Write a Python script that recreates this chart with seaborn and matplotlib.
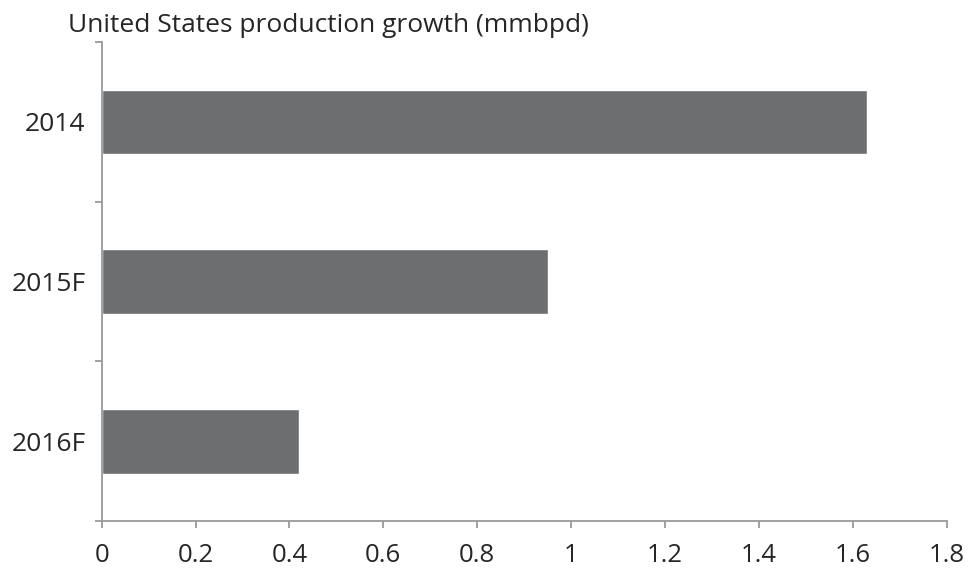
import matplotlib
matplotlib.use("Agg")
import matplotlib.pyplot as plt
import seaborn as sns
import pandas as pd

categories = ["2014", "2015F", "2016F"]
values = [1.63, 0.95, 0.42]
x_ticks = [0, 0.2, 0.4, 0.6, 0.8, 1.0, 1.2, 1.4, 1.6, 1.8]
x_tick_labels = ["0", "0.2", "0.4", "0.6", "0.8", "1", "1.2", "1.4", "1.6", "1.8"]
title = "United States production growth (mmbpd)"

sns.set_style("white")
plt.rcParams['font.family'] = ['Open Sans', 'DejaVu Sans']

df = pd.DataFrame({"year": categories, "growth": values})

fig = plt.figure(figsize=(9.71, 5.71), dpi=100)
ax = fig.add_axes([0.1047, 0.0875, 0.975 - 0.1047, 0.9264 - 0.0875])
sns.barplot(data=df, x="growth", y="year", order=categories, color="#6d6e70",
            saturation=1, width=0.405, ax=ax, orient="h")

axis_col = "#9a9a9a"
ax.set_xlim(0, 1.8)
ax.set_ylim(2.5, -0.5)
for s in ["top", "right"]:
    ax.spines[s].set_visible(False)
for s in ["left", "bottom"]:
    ax.spines[s].set_color(axis_col)
    ax.spines[s].set_linewidth(1.3)

ax.set_xticks(x_ticks)
ax.set_xticklabels(x_tick_labels, fontsize=18.5)
ax.tick_params(axis="x", direction="out", bottom=True, length=5, width=1.3, color=axis_col, pad=11)

ax.set_yticks([-0.5, 0.5, 1.5, 2.5])
ax.set_yticklabels([])
ax.set_yticks([0, 1, 2], minor=True)
ax.set_yticklabels(categories, minor=True, fontsize=19)
ax.tick_params(axis="y", which="major", direction="out", left=True, length=5, width=1.3, color=axis_col)
ax.tick_params(axis="y", which="minor", left=False, length=0, pad=11.5)

ax.set_xlabel("")
ax.set_ylabel("")
fig.text(68 / 971, 1 - 26 / 571, title, fontsize=19, ha="left", va="center")

fig.savefig("out.png", dpi=100)
